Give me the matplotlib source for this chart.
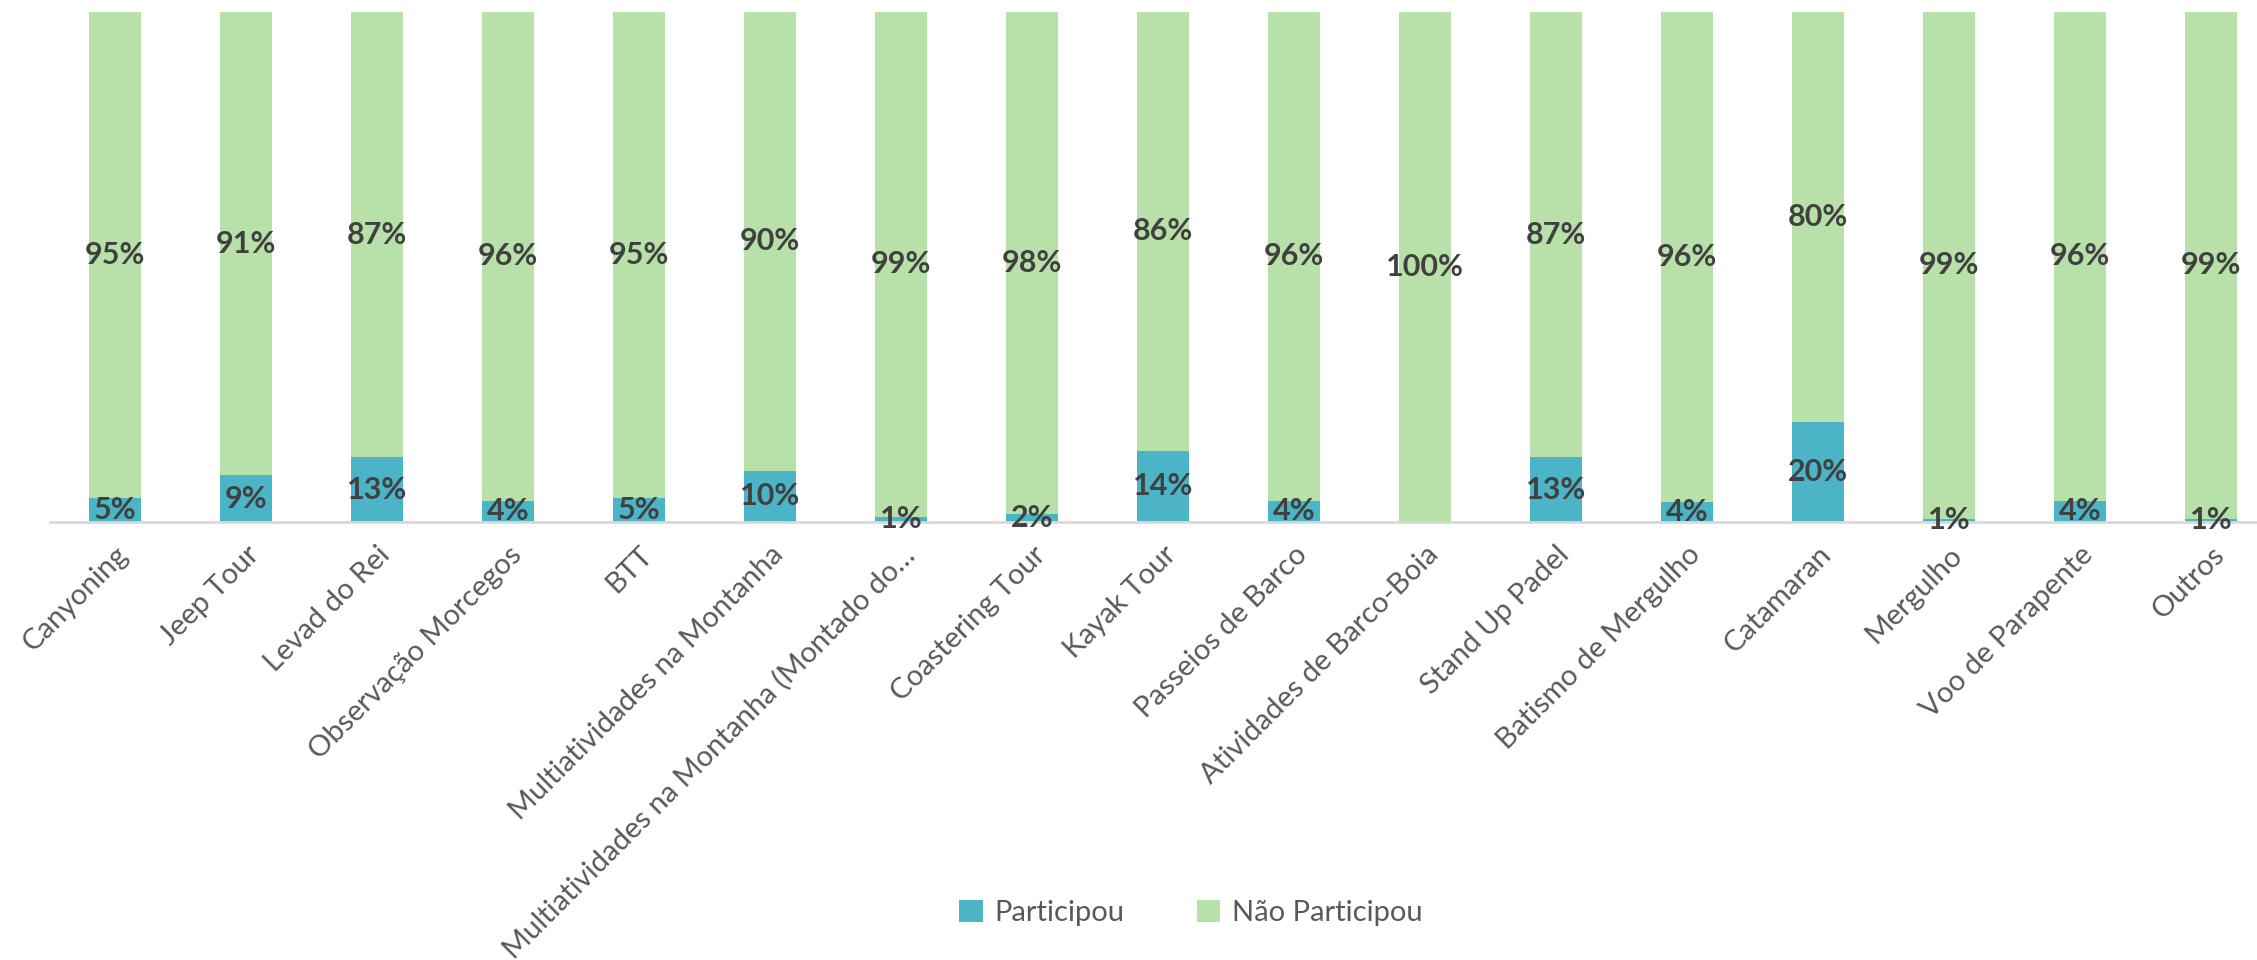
import numpy as np
import matplotlib.pyplot as plt

plt.rcParams['font.family'] = ['Lato', 'DejaVu Sans']

atividades = ['Canyoning', 'Jeep Tour', 'Levad do Rei', 'Observação Morcegos', 'BTT',
              'Multiatividades na Montanha', 'Multiatividades na Montanha (Montado do…',
              'Coastering Tour', 'Kayak Tour', 'Passeios de Barco', 'Atividades de Barco-Boia',
              'Stand Up Padel', 'Batismo de Mergulho', 'Catamaran', 'Mergulho',
              'Voo de Parapente', 'Outros']
participou = [4.8, 9.2, 12.7, 4.2, 4.8, 10.0, 1.0, 1.6, 14.0, 4.2, 0.0, 12.7, 4.0, 19.6, 0.6, 4.2, 0.6]
nao_participou = [100 - p for p in participou]

cor_part = '#4BB4C6'
cor_nao = '#B8E1A9'
cor_txt = '#404040'

fig = plt.figure(figsize=(22.57, 9.6), dpi=100)
ax = fig.add_axes([50/2257, 1-522/960, 1-50/2257, (522-12)/960])

x = np.arange(len(atividades))
p = np.array(participou) / 100
n = np.array(nao_participou) / 100
w = 0.40
ax.bar(x, p, w, color=cor_part, label='Participou')
ax.bar(x, n, w, bottom=p, color=cor_nao, label='Não Participou')

# data labels
for i in range(len(x)):
    if participou[i] > 0:
        ax.text(x[i], p[i]/2, '%d%%' % round(participou[i]), ha='center', va='center',
                fontsize=22, fontweight='bold', color=cor_txt)
    ax.text(x[i], p[i] + n[i]/2, '%d%%' % round(nao_participou[i]), ha='center', va='center',
            fontsize=22, fontweight='bold', color=cor_txt)

ax.set_xlim((50-115)/131, (2257-115)/131)
ax.set_ylim(0, 1)
ax.set_yticks([])
for s in ['top', 'right', 'left']:
    ax.spines[s].set_visible(False)
ax.spines['bottom'].set_color('#D9D9D9')
ax.spines['bottom'].set_linewidth(2)
ax.set_xticks(x)
ax.set_xticklabels(atividades, rotation=45, ha='right', rotation_mode='anchor',
                   fontsize=21, color='#595959')
ax.tick_params(axis='x', length=0, pad=14)

fig.legend(loc='center', bbox_to_anchor=(1191/2257, 1-913/960), ncol=2, frameon=False,
           fontsize=21, labelcolor='#595959', handlelength=0.8, handleheight=0.8,
           columnspacing=2.5, handletextpad=0.4)

fig.savefig('out.png', dpi=100)
